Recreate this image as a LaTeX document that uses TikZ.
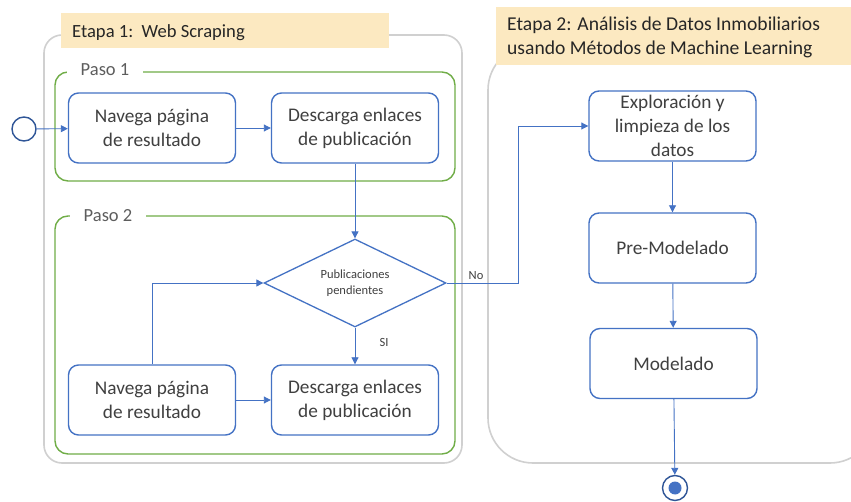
\documentclass[tikz,border=0pt]{standalone}
\usepackage{fontspec}
\setmainfont{Carlito}
\usetikzlibrary{shapes.geometric,arrows.meta}
\definecolor{boxblue}{HTML}{4472C4}
\definecolor{startblue}{HTML}{2F5597}
\definecolor{pasogreen}{HTML}{70AD47}
\definecolor{stagegray}{HTML}{D0D0D0}
\definecolor{labelyellow}{HTML}{FCE9C1}
\definecolor{txt}{HTML}{404040}
\begin{document}
\begin{tikzpicture}[x=1pt,y=-1pt,
  stagebox/.style={draw=stagegray,line width=1.6pt},
  pasobox/.style={draw=pasogreen,line width=1.4pt,rounded corners=13pt},
  taskbox/.style={draw=boxblue,line width=1.4pt,rounded corners=10pt,minimum width=167pt,minimum height=70pt,inner sep=0pt,align=center,text=txt,font=\fontsize{19.3}{24}\selectfont},
  decision/.style={draw=boxblue,line width=1.3pt,diamond,shape aspect=2.07,minimum width=182pt,minimum height=88pt,inner sep=0pt,align=center,text=txt,font=\fontsize{12.5}{16}\selectfont},
  conn/.style={draw=boxblue,line width=0.9pt,-{Triangle[length=7pt,width=7pt]}},
  pasolabel/.style={fill=white,text=txt!85,font=\fontsize{18.5}{20}\selectfont,minimum width=76pt,inner sep=2pt},
  stagelabel/.style={fill=labelyellow,anchor=north west,inner sep=0pt},
  small/.style={text=txt,font=\fontsize{12.5}{14}\selectfont}
]
\clip (0,0) rectangle (851,502);
\fill[white] (0,0) rectangle (851,502);

% Stage containers
\draw[stagebox,rounded corners=18pt] (44,35) rectangle (462,463);
\draw[stagebox,rounded corners=45pt] (488,45) rectangle (875,463);

% Stage labels
\node[stagelabel,minimum width=328pt,minimum height=35pt] (etapa1) at (61,13) {};
\node[text=black!85,anchor=west,inner sep=0pt,font=\fontsize{18.6}{20}\selectfont] (etapa1txt) at (72,33) {Etapa 1:\ \ Web Scraping};
\node[stagelabel,minimum width=370pt,minimum height=58pt] (etapa2) at (496,7) {};
\node[text=black!85,anchor=north west,align=left,inner sep=0pt,font=\fontsize{19.6}{24}\selectfont] (etapa2txt) at (507,17) {Etapa 2: Análisis de Datos Inmobiliarios\\usando Métodos de Machine Learning};

% Paso containers
\draw[pasobox] (55,72) rectangle (455,181);
\draw[pasobox] (55,216) rectangle (455,454);
\node[pasolabel] (paso1) at (105,70) {Paso 1};
\node[pasolabel] (paso2) at (108,216) {Paso 2};

% Start / end events
\node[draw=startblue,line width=1.4pt,circle,minimum size=24pt,inner sep=0pt] (start) at (24,129) {};
\node[draw=startblue,line width=1.4pt,circle,minimum size=25pt,inner sep=0pt] (endev) at (675,488) {};
\fill[boxblue] (endev.center) circle (6.5pt);

% Paso 1 tasks
\node[taskbox] (nav1) at (152,128) {Navega página\\de resultado};
\node[taskbox] (des1) at (355,128) {Descarga enlaces\\de publicación};

% Paso 2
\node[decision] (dec) at (355,283) {Publicaciones\\pendientes};
\node[taskbox] (nav2) at (152,400) {Navega página\\de resultado};
\node[taskbox] (des2) at (355,400) {Descarga enlaces\\de publicación};

% Etapa 2 tasks
\node[taskbox] (expl) at (672.5,126) {Exploración y\\limpieza de los\\datos};
\node[taskbox] (prem) at (672.5,248) {Pre-Modelado};
\node[taskbox] (model) at (673.5,363.5) {Modelado};

% Connectors
\draw[conn] (start) -- (nav1);
\draw[conn] (nav1) -- (des1);
\draw[conn] (des1) -- (dec);
\draw[conn] (dec) -- (des2);
\draw[conn] (nav2) -- (des2);
\draw[conn] (nav2.north) |- (dec.west);
\coordinate (nocorner) at (518,283);
\draw[conn] (dec.east) -- (nocorner) |- (expl.west);
\draw[conn] (expl) -- (prem);
\draw[conn] (prem) -- (model);
\draw[conn] (model) -- (endev);

% Labels
\node[small] (nolab) at (476,276) {No};
\node[small] (silab) at (384,342) {SI};
\end{tikzpicture}
\end{document}
